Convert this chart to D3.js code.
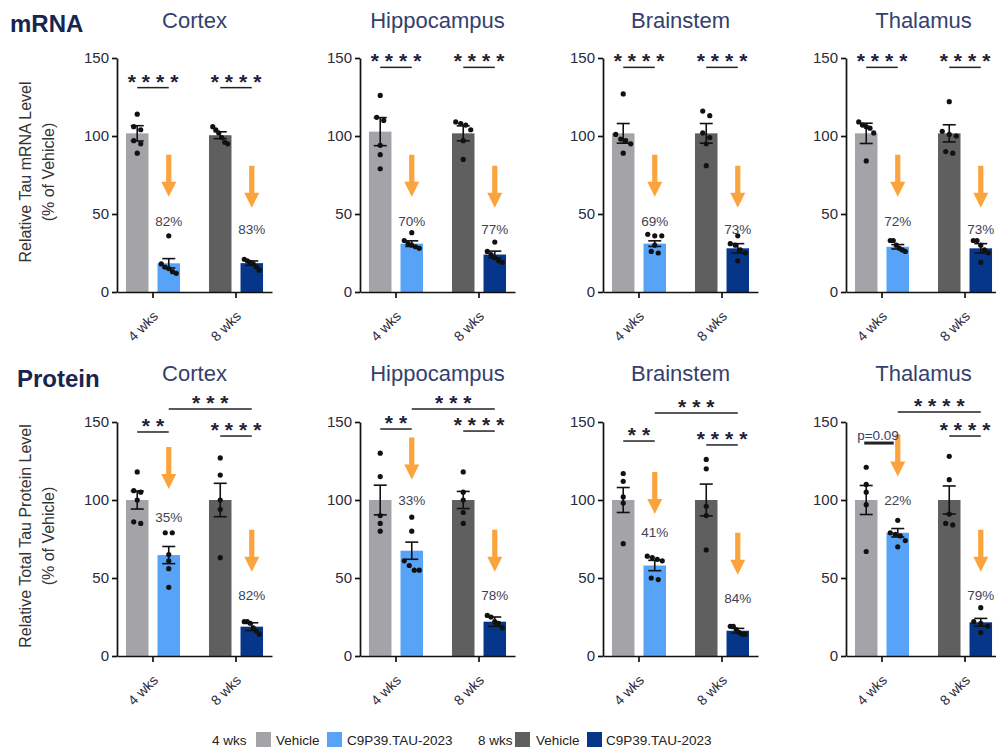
<!DOCTYPE html>
<html><head><meta charset="utf-8">
<script src="https://cdn.jsdelivr.net/npm/d3@7"></script>
<style>
body{margin:0;background:#fff;}
svg{display:block;font-family:"Liberation Sans",Arial,sans-serif;}
</style></head><body>
<svg id="chart" width="996" height="752"></svg>
<script>
// ---------------- DATA ----------------
const regions = ["Cortex", "Hippocampus", "Brainstem", "Thalamus"];
const timepoints = ["4 wks", "8 wks"];
const groups = ["Vehicle", "C9P39.TAU-2023"];
const yTicks = [0, 50, 100, 150];

// order inside each region: [Vehicle 4 wks, C9P39 4 wks, Vehicle 8 wks, C9P39 8 wks]
const mrnaMeans = [
  [101.7, 18.4, 100.5, 18.5],
  [102.8, 31.0, 101.7, 24.0],
  [101.7, 31.0, 101.7, 28.0],
  [101.7, 29.0, 101.7, 28.0]
];
const mrnaSem = [
  [4.9, 3.0, 2.2, 1.4],
  [9.0, 1.8, 4.8, 2.2],
  [6.3, 1.8, 6.3, 3.0],
  [6.5, 1.4, 5.5, 3.0]
];
const mrnaPoints = [
  [[114,106,104,97,95,89],[36,18,16,15,13,12],[106,104,102,99,96,95],[21,20,19,18,16,14]],
  [[126,112,110,94,88,79],[38,33,31,30,29,28],[109,108,107,104,97,85],[32,26,24,22,20,19]],
  [[127,101,98,97,95,89],[37,36,36,30,26,25],[116,113,102,99,95,81],[36,31,30,27,25,20]],
  [[109,107,106,105,102,84],[33,33,30,28,27,26],[122,103,101,100,90,89],[33,33,30,27,25,19]]
];
const proteinMeans = [
  [100, 64.7, 100, 18.8],
  [100, 67.5, 100, 22.0],
  [100, 58.0, 100, 16.2],
  [100, 79.0, 100, 21.6]
];
const proteinSem = [
  [5.8, 5.5, 10.7, 2.5],
  [9.5, 5.5, 5.5, 3.0],
  [8.0, 3.3, 10.2, 1.5],
  [9.3, 2.7, 9.0, 2.5]
];
const proteinPoints = [
  [[118,106,105,100,86,85],[79,79,65,61,56,44],[127,116,100,94,63],[22,22,21,18,16,14]],
  [[130,115,90,85,80],[89,80,61,58,55,55],[118,105,100,92,85],[26,25,22,21,18]],
  [[117,112,102,98,72],[64,63,62,61,50,49],[126,120,96,90,68],[19,19,17,15,14,14]],
  [[121,110,105,97,67],[87,79,78,77,74,70],[128,113,91,85,84],[31,22,21,19,15]]
];

// reduction labels [4 wks, 8 wks]
const mrnaReduction = [["82%","83%"],["70%","77%"],["69%","73%"],["72%","73%"]];
const proteinReduction = [["35%","82%"],["33%","78%"],["41%","84%"],["22%","79%"]];
// annotation anchor values (in % of vehicle units): arrow top and label centre
const mrnaArrowTop = [[88,81],[88,81],[88,81],[88,81]];
const mrnaPctAt = [[45,40],[45,40],[45,40],[45,40]];
const proteinArrowTop = [[134,81],[140,81],[118,79],[142,81]];
const proteinPctAt = [[89,39],[100,39],[79,37],[100,39]];

// significance
const mrnaSig = [["****","****"],["****","****"],["****","****"],["****","****"]];
const mrnaSigLevel = [131, 144, 144, 144];
const proteinSig = [["**","****"],["**","****"],["**","****"],["p=0.09","****"]];
const proteinSigLevel = [[143.6,141],[145.5,144.2],[137.8,135.3],[136.5,141]];
const proteinSigAcross = ["***","***","***","****"];
const proteinSigAcrossLevel = [158.3, 158.3, 155.8, 156.4];

// ---------------- STYLE / LAYOUT ----------------
const colors = ["#a4a3a8", "#57a3f7", "#5f5f5f", "#06368a"];
const arrowColor = "#fba33c";
const titleColor = "#34406e";
const svg = d3.select("#chart");
const panelW = 155, plotH = 234;

const rows = [
  {title:"mRNA", titleY:32, titleX:10, y0:292, panelTitleY:28,
   ylab:["Relative Tau mRNA Level","(% of Vehicle)"],
   means:mrnaMeans, sem:mrnaSem, points:mrnaPoints, red:mrnaReduction,
   arrowTop:mrnaArrowTop, pctAt:mrnaPctAt},
  {title:"Protein", titleY:387, titleX:17, y0:656, panelTitleY:381,
   ylab:["Relative Total Tau Protein Level","(% of Vehicle)"],
   means:proteinMeans, sem:proteinSem, points:proteinPoints, red:proteinReduction,
   arrowTop:proteinArrowTop, pctAt:proteinPctAt}
];

const gScale = d3.scaleBand().domain(timepoints).range([0, panelW]).paddingInner(0.349).paddingOuter(0.108);
const sScale = d3.scaleBand().domain(groups).range([0, gScale.bandwidth()]).paddingInner(0.286).paddingOuter(0);
const panelX = d3.scaleOrdinal().domain(regions).range([117, 360, 603, 846]);

function barX(t, g){ return gScale(timepoints[t]) + sScale(groups[g]); }
function barC(t, g){ return barX(t,g) + sScale.bandwidth()/2; }

function stars(sel, x, y, txt){
  const ls = 6;
  sel.append("text").attr("x", x + ls/2).attr("y", y)
    .attr("text-anchor","middle").attr("font-size", 21).attr("font-weight","bold")
    .attr("letter-spacing", ls).attr("fill","#1d2038").text(txt);
}
function bracket(sel, x1, x2, y, w){
  sel.append("line").attr("x1",x1).attr("x2",x2).attr("y1",y).attr("y2",y)
    .attr("stroke","#222").attr("stroke-width", w || 1.5);
}
function arrow(sel, x, yTop){
  const L = 42, sw = 2.6, hw = 7.5, hl = 15;
  const p = d3.path();
  p.moveTo(x-sw, yTop); p.lineTo(x+sw, yTop); p.lineTo(x+sw, yTop+L-hl);
  p.lineTo(x+hw, yTop+L-hl); p.lineTo(x, yTop+L); p.lineTo(x-hw, yTop+L-hl);
  p.lineTo(x-sw, yTop+L-hl); p.closePath();
  sel.append("path").attr("d", p.toString()).attr("fill", arrowColor);
}

rows.forEach((row, ri) => {
  const y = d3.scaleLinear().domain([0,150]).range([row.y0, row.y0 - plotH]);
  svg.append("text").attr("x", row.titleX).attr("y", row.titleY)
    .attr("font-size", 24).attr("font-weight","bold").attr("fill","#17254f").text(row.title);

  // y label
  const ymid = row.y0 - plotH/2 - 3;
  row.ylab.forEach((l, li) => {
    svg.append("text").attr("transform", `translate(${li===0?25:48},${ymid}) rotate(-90)`)
      .attr("text-anchor","middle").attr("dominant-baseline","central")
      .attr("font-size", 16).attr("fill","#333").text(l);
  });

  regions.forEach((reg, r) => {
    const g = svg.append("g").attr("transform", `translate(${panelX(reg)},0)`);
    g.append("text").attr("x", panelW/2).attr("y", row.panelTitleY)
      .attr("text-anchor","middle").attr("font-size", 22).attr("fill", titleColor).text(reg);

    // bars
    for (let t=0; t<2; t++) for (let s=0; s<2; s++) {
      const k = t*2+s, m = row.means[r][k];
      g.append("rect").attr("x", barX(t,s)).attr("width", sScale.bandwidth())
        .attr("y", y(m)).attr("height", y(0)-y(m)).attr("fill", colors[k]);
    }
    // points + error bars
    for (let t=0; t<2; t++) for (let s=0; s<2; s++) {
      const k = t*2+s, cx = barC(t,s);
      const vals = row.points[r][k].slice().sort((a,b)=>b-a);
      const clusters = [];
      vals.forEach(v => {
        const last = clusters[clusters.length-1];
        if (last && Math.abs(y(v) - y(last[last.length-1])) < 5) last.push(v);
        else clusters.push([v]);
      });
      clusters.forEach(c => {
        const step = c.length > 1 ? Math.min(7, 15 / (c.length-1)) : 0;
        c.forEach((v,i) => {
          g.append("circle").attr("cx", cx + (i-(c.length-1)/2)*step).attr("cy", y(v))
            .attr("r", 2.6).attr("fill","#111");
        });
      });
      const m = row.means[r][k], e = row.sem[r][k];
      const eg = g.append("g").attr("stroke","#111").attr("stroke-width",1.6);
      eg.append("line").attr("x1",cx).attr("x2",cx).attr("y1",y(m-e)).attr("y2",y(m+e));
      [m-e, m+e].forEach(v => eg.append("line").attr("x1",cx-6.5).attr("x2",cx+6.5).attr("y1",y(v)).attr("y2",y(v)));
    }

    // axes
    const ya = d3.axisLeft(y).tickValues(yTicks).tickSize(5).tickSizeOuter(0).tickPadding(3);
    const yag = g.append("g").call(ya);
    const xa = d3.axisBottom(gScale).tickSize(6).tickSizeOuter(0).tickPadding(2);
    const xag = g.append("g").attr("transform", `translate(0,${row.y0})`).call(xa);
    [yag, xag].forEach(a => {
      a.select(".domain").attr("stroke","#111").attr("stroke-width",1.7);
      a.selectAll(".tick line").attr("stroke","#111").attr("stroke-width",1.7);
      a.selectAll("text").attr("font-family","Liberation Sans, Arial, sans-serif").attr("fill","#2a2a3a");
    });
    yag.selectAll("text").attr("font-size", 15);
    xag.selectAll("text").attr("font-size", 14).attr("text-anchor","end")
      .attr("dy", null).attr("y", 0)
      .attr("transform", "translate(6,25) rotate(-45)");

    // arrows + percentages
    for (let t=0; t<2; t++) {
      const cx = barC(t,1);
      arrow(g, cx, y(row.arrowTop[r][t]));
      g.append("text").attr("x", cx).attr("y", y(row.pctAt[r][t]))
        .attr("text-anchor","middle").attr("dominant-baseline","central")
        .attr("font-size", 13.5).attr("fill","#3e4352").text(row.red[r][t]);
    }

    // significance
    if (ri === 0) {
      for (let t=0; t<2; t++) {
        const ly = y(mrnaSigLevel[r]);
        bracket(g, barC(t,0), barC(t,1), ly);
        stars(g, (barC(t,0)+barC(t,1))/2, ly + 1, mrnaSig[r][t]);
      }
    } else {
      for (let t=0; t<2; t++) {
        const ly = y(proteinSigLevel[r][t]);
        const txt = proteinSig[r][t];
        const mid = (barC(t,0)+barC(t,1))/2;
        if (txt.startsWith("p")) {
          bracket(g, barC(t,0)-2, barC(t,1)-4, ly, 3);
          g.append("text").attr("x", mid-4).attr("y", ly-3).attr("text-anchor","middle")
            .attr("font-size", 13.5).attr("fill", titleColor).text(txt);
        } else {
          bracket(g, barC(t,0), barC(t,1), ly);
          stars(g, mid, ly + 1, txt);
        }
      }
      const la = y(proteinSigAcrossLevel[r]);
      bracket(g, barC(0,1), barC(1,1), la);
      stars(g, (barC(0,1)+barC(1,1))/2, la + 1, proteinSigAcross[r]);
    }
  });
});

// ---------------- LEGEND ----------------
const leg = svg.append("g").attr("font-size", 13.5).attr("fill","#222");
const legItems = [
  {type:"text", x:212, t:timepoints[0]},
  {type:"box", x:256, c:colors[0]}, {type:"text", x:276, t:groups[0]},
  {type:"box", x:327, c:colors[1]}, {type:"text", x:347, t:groups[1]},
  {type:"text", x:478, t:timepoints[1]},
  {type:"box", x:515, c:colors[2]}, {type:"text", x:536, t:groups[0]},
  {type:"box", x:587, c:colors[3]}, {type:"text", x:606, t:groups[1]}
];
legItems.forEach(it => {
  if (it.type === "box") leg.append("rect").attr("x", it.x).attr("y", 732).attr("width", 15).attr("height", 15).attr("fill", it.c);
  else leg.append("text").attr("x", it.x).attr("y", 740).attr("dominant-baseline","central").text(it.t);
});
</script>
</body></html>
